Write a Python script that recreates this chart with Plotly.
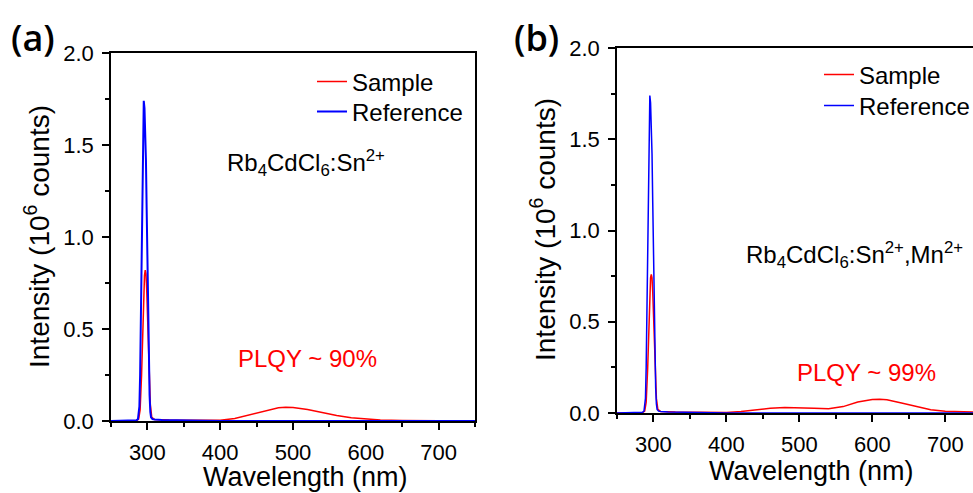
import plotly.graph_objects as go

# ---------------- data ----------------
# Panel (a) Rb4CdCl6:Sn2+
ref_a_wl = [250, 280, 285, 287, 289, 290, 291, 292, 293, 294, 295, 296, 297, 298, 299, 300, 301, 302, 303, 304, 305, 307, 310, 320, 350, 400, 750]
ref_a_int = [0.0, 0.002, 0.004, 0.01, 0.08, 0.25, 0.55, 0.95, 1.35, 1.62, 1.74, 1.70, 1.60, 1.42, 1.15, 0.85, 0.55, 0.30, 0.14, 0.05, 0.02, 0.01, 0.008, 0.006, 0.004, 0.0, 0.0]

smp_a_wl = [250, 285, 288, 290, 292, 294, 295, 296, 297, 298, 299, 300, 302, 304, 306, 310, 330, 360, 400, 420, 440, 460, 480, 490, 500, 520, 540, 560, 580, 600, 620, 650, 700, 750]
smp_a_int = [0.0, 0.002, 0.01, 0.06, 0.25, 0.55, 0.70, 0.79, 0.82, 0.80, 0.72, 0.58, 0.30, 0.09, 0.02, 0.008, 0.005, 0.003, 0.004, 0.014, 0.033, 0.056, 0.072, 0.075, 0.073, 0.062, 0.045, 0.030, 0.018, 0.010, 0.006, 0.003, 0.001, 0.0]

# Panel (b) Rb4CdCl6:Sn2+,Mn2+
ref_b_wl = [250, 280, 285, 287, 289, 290, 291, 292, 293, 294, 295, 296, 297, 298, 299, 300, 301, 302, 303, 304, 305, 307, 310, 320, 350, 400, 750]
ref_b_int = [0.0, 0.002, 0.004, 0.01, 0.08, 0.25, 0.55, 0.95, 1.35, 1.62, 1.74, 1.70, 1.60, 1.42, 1.15, 0.85, 0.55, 0.30, 0.14, 0.05, 0.02, 0.01, 0.008, 0.006, 0.004, 0.0, 0.0]

smp_b_wl = [250, 285, 288, 290, 292, 294, 295, 296, 297, 298, 299, 300, 302, 304, 306, 310, 330, 360, 400, 420, 440, 460, 480, 500, 520, 540, 560, 580, 600, 610, 620, 640, 660, 680, 700, 720, 750]
smp_b_int = [0.0, 0.002, 0.01, 0.06, 0.24, 0.52, 0.66, 0.74, 0.76, 0.74, 0.66, 0.52, 0.27, 0.08, 0.02, 0.008, 0.005, 0.003, 0.003, 0.008, 0.018, 0.026, 0.030, 0.030, 0.026, 0.023, 0.035, 0.060, 0.074, 0.075, 0.072, 0.055, 0.035, 0.018, 0.010, 0.006, 0.004]

x_ticks = [300, 400, 500, 600, 700]
y_ticks = [0.0, 0.5, 1.0, 1.5, 2.0]
y_tick_labels = ["0.0", "0.5", "1.0", "1.5", "2.0"]

# ---------------- figure ----------------
W, H = 973, 493
FONT = "Liberation Sans, Arial, sans-serif"
RED = "#ff0000"
BLUE = "#0000ff"

def px(x):
    return x / W

def py(y):
    return 1 - y / H

fig = go.Figure()

fig.add_trace(go.Scatter(x=smp_a_wl, y=smp_a_int, mode="lines", name="Sample", showlegend=True,
                         line=dict(color=RED, width=1.5), xaxis="x", yaxis="y", legend="legend"))
fig.add_trace(go.Scatter(x=ref_a_wl, y=ref_a_int, mode="lines", name="Reference", showlegend=True,
                         line=dict(color=BLUE, width=2), xaxis="x", yaxis="y", legend="legend2"))
fig.add_trace(go.Scatter(x=smp_b_wl, y=smp_b_int, mode="lines", name="Sample", showlegend=True,
                         line=dict(color=RED, width=1.5), xaxis="x2", yaxis="y2", legend="legend3"))
fig.add_trace(go.Scatter(x=ref_b_wl, y=ref_b_int, mode="lines", name="Reference", showlegend=True,
                         line=dict(color=BLUE, width=1.5), xaxis="x2", yaxis="y2", legend="legend4"))

tickfont = dict(family=FONT, size=22, color="#000")

def xaxis(domain, anchor, rng, mirror):
    return dict(domain=domain, anchor=anchor, range=rng, showgrid=False, zeroline=False,
                automargin=False,
                showline=True, linecolor="#000", linewidth=1.5, mirror=mirror,
                ticks="outside", ticklen=7, tickwidth=1.5, tickcolor="#000",
                tickvals=x_ticks, tickfont=tickfont, ticklabelstandoff=4,
                minor=dict(ticks="outside", ticklen=4, tickwidth=1.5, tickcolor="#000",
                           tick0=250, dtick=50))

def yaxis(domain, anchor, mirror):
    return dict(domain=domain, anchor=anchor, range=[0, 2.0], showgrid=False, zeroline=False,
                automargin=False,
                showline=True, linecolor="#000", linewidth=1.5, mirror=mirror,
                ticks="outside", ticklen=7, tickwidth=1.5, tickcolor="#000",
                tickvals=y_ticks, ticktext=y_tick_labels, tickfont=tickfont, ticklabelstandoff=4,
                minor=dict(ticks="outside", ticklen=4, tickwidth=1.5, tickcolor="#000",
                           tick0=0, dtick=0.25))

def legend(x, y):
    return dict(x=px(x), y=py(y), xanchor="left", yanchor="middle", bgcolor="rgba(0,0,0,0)",
                font=dict(family=FONT, size=24, color="#000"), tracegroupgap=0, visible=True)

fig.update_layout(
    width=W, height=H, margin=dict(l=0, r=0, t=0, b=0, autoexpand=False),
    paper_bgcolor="white", plot_bgcolor="white", showlegend=True,
    xaxis=xaxis([px(111), px(475)], "y", [250, 750], True),
    yaxis=yaxis([py(421), py(53)], "x", True),
    xaxis2=xaxis([px(617), 1.0], "y2", [250, 738], True),
    yaxis2=yaxis([py(413), py(48)], "x2", False),
    legend=legend(312, 82),
    legend2=legend(312, 112),
    legend3=legend(819, 75),
    legend4=legend(819, 106),
)

ann = [
    dict(text="(a)", x=px(33), y=py(38), font=dict(family="Open Sans", size=36, color="#000", weight=600)),
    dict(text="(b)", x=px(536), y=py(37), font=dict(family="Open Sans", size=36, color="#000", weight=600)),
    dict(text="Intensity (10<sup>6</sup> counts)", x=px(37), y=py(237), textangle=-90,
         font=dict(family=FONT, size=28, color="#000")),
    dict(text="Intensity (10<sup>6</sup> counts)", x=px(543), y=py(230), textangle=-90,
         font=dict(family=FONT, size=28, color="#000")),
    dict(text="Wavelength (nm)", x=px(305), y=py(477), font=dict(family=FONT, size=27, color="#000")),
    dict(text="Wavelength (nm)", x=px(811), y=py(471), font=dict(family=FONT, size=27, color="#000")),
    dict(text="Rb<sub>4</sub>CdCl<sub>6</sub>:Sn<sup>2+</sup>", x=px(306), y=py(163),
         font=dict(family=FONT, size=24, color="#000")),
    dict(text="Rb<sub>4</sub>CdCl<sub>6</sub>:Sn<sup>2+</sup>,Mn<sup>2+</sup>", x=px(854), y=py(255),
         font=dict(family=FONT, size=24, color="#000")),
    dict(text="PLQY ~ 90%", x=px(307), y=py(358), font=dict(family=FONT, size=24, color=RED)),
    dict(text="PLQY ~ 99%", x=px(866), y=py(372), font=dict(family=FONT, size=24, color=RED)),
]
for a in ann:
    a.update(xref="paper", yref="paper", showarrow=False, xanchor="center", yanchor="middle")
fig.update_layout(annotations=ann)

fig.write_html("out.html")
